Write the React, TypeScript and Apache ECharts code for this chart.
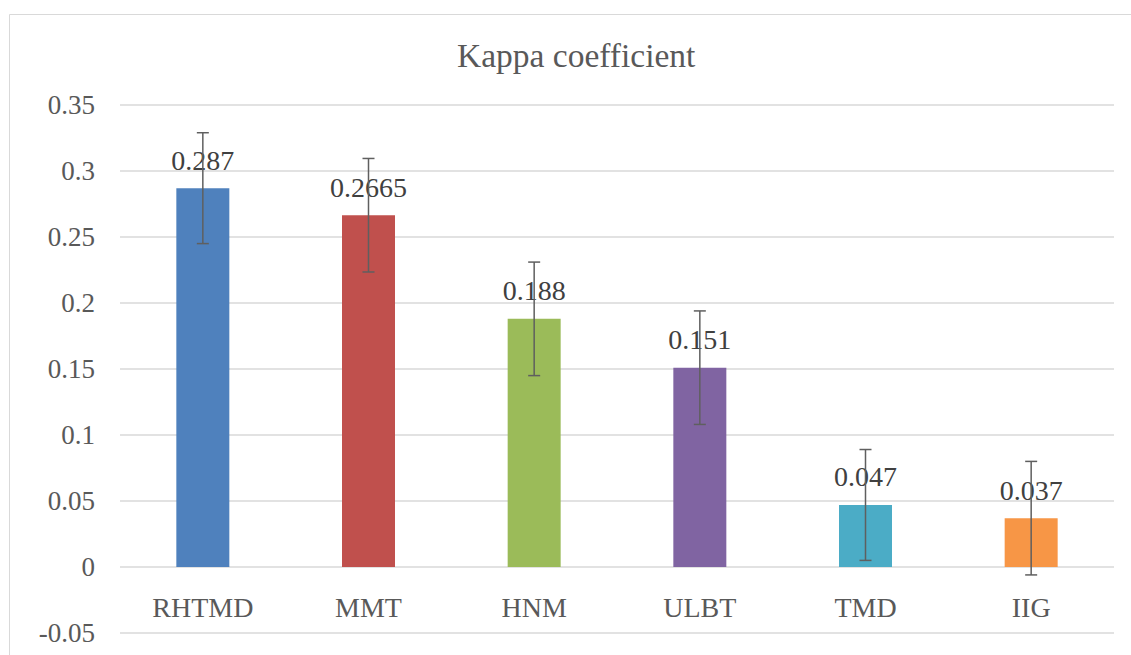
import React, { useEffect, useRef } from "react";
import * as echarts from "echarts";

const categories = ["RHTMD", "MMT", "HNM", "ULBT", "TMD", "IIG"];
const values = [0.287, 0.2665, 0.188, 0.151, 0.047, 0.037];
const errors = [0.042, 0.043, 0.043, 0.043, 0.042, 0.043];
const colors = ["#4F81BD", "#C0504D", "#9BBB59", "#8064A2", "#4BACC6", "#F79646"];
const labels = ["0.287", "0.2665", "0.188", "0.151", "0.047", "0.037"];

const FONT = "Liberation Serif";
const TEXT = "#595959";

export default function App() {
  const ref = useRef<HTMLDivElement>(null);
  useEffect(() => {
    if (!ref.current) return;
    const chart = echarts.init(ref.current, null, { renderer: "svg" });
    const errData = categories.map((_, i) => [i, values[i] - errors[i], values[i] + errors[i]]);
    chart.setOption({
      animation: false,
      backgroundColor: "#ffffff",
      textStyle: { fontFamily: FONT },
      graphic: [
        {
          type: "rect",
          shape: { x: 9.5, y: 14.5, width: 1200, height: 800 },
          style: { fill: "none", stroke: "#D9D9D9", lineWidth: 1 },
          silent: true,
          z: -1,
        },
      ],
      title: {
        text: "Kappa coefficient",
        left: 457,
        top: 38,
        padding: 0,
        textStyle: { fontFamily: FONT, fontSize: 33.5, fontWeight: "normal", color: TEXT },
      },
      grid: { left: 120, right: 17, top: 105, bottom: 22, containLabel: false, outerBoundsMode: "none" },
      xAxis: {
        type: "category",
        data: categories,
        offset: -66,
        axisLine: { show: false, onZero: false },
        axisTick: { show: false },
        axisLabel: { fontFamily: FONT, fontSize: 28, color: TEXT, margin: 26 },
      },
      yAxis: {
        type: "value",
        min: -0.05,
        max: 0.35,
        interval: 0.05,
        axisLine: { show: false },
        axisTick: { show: false },
        splitLine: { lineStyle: { color: "#D9D9D9", width: 1.5 } },
        axisLabel: {
          fontFamily: FONT,
          fontSize: 27,
          color: TEXT,
          margin: 25,
          formatter: (v: number) => String(+v.toFixed(2)),
        },
      },
      series: [
        {
          type: "bar",
          barWidth: 53,
          data: values.map((v, i) => ({ value: v, itemStyle: { color: colors[i] } })),
          label: {
            show: true,
            position: "top",
            distance: 14,
            fontFamily: FONT,
            fontSize: 28,
            color: "#404040",
            formatter: (p: any) => labels[p.dataIndex],
          },
          z: 2,
        },
        {
          type: "custom",
          data: errData,
          z: 3,
          renderItem: (params: any, api: any) => {
            const x = api.value(0);
            const lo = api.coord([x, api.value(1)]);
            const hi = api.coord([x, api.value(2)]);
            const cap = 6;
            const style = { stroke: "#5f5f5f", lineWidth: 1.5 };
            return {
              type: "group",
              children: [
                { type: "line", shape: { x1: hi[0], y1: hi[1], x2: lo[0], y2: lo[1] }, style },
                { type: "line", shape: { x1: hi[0] - cap, y1: hi[1], x2: hi[0] + cap, y2: hi[1] }, style },
                { type: "line", shape: { x1: lo[0] - cap, y1: lo[1], x2: lo[0] + cap, y2: lo[1] }, style },
              ],
            };
          },
        },
      ],
    });
    return () => chart.dispose();
  }, []);
  return (
    <div
      ref={ref}
      style={{ position: "fixed", left: 0, top: 0, width: 1131, height: 655, background: "#fff" }}
    />
  );
}
